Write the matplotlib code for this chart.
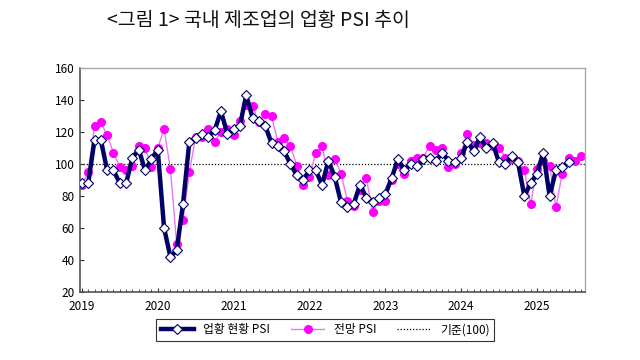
import matplotlib
matplotlib.use("Agg")
import matplotlib.pyplot as plt
import numpy as np

plt.rcParams['font.family'] = ['Noto Sans CJK KR', 'DejaVu Sans']

title = "<그림 1> 국내 제조업의 업황 PSI 추이"
years = ['2019', '2020', '2021', '2022', '2023', '2024', '2025']
series_names = ['업황 현황 PSI', '전망 PSI', '기준(100)']
baseline = 100

# monthly values from Jan 2019
current = [88, 88, 115, 115, 96, 96, 88, 88, 104, 109, 96, 103,
           109, 60, 42, 46, 75, 114, 116, 119, 117, 121, 133, 119,
           122, 124, 143, 129, 127, 124, 113, 111, 108, 100, 93, 90,
           96, 96, 87, 102, 92, 76, 73, 75, 87, 79, 76, 79,
           81, 91, 103, 96, 100, 99, 103, 104, 102, 107, 102, 101,
           104, 114, 108, 117, 110, 113, 101, 100, 105, 101, 80, 88,
           94, 107, 80, 96, 98, 101]
outlook = [87, 95, 124, 126, 118, 107, 98, 96, 99, 111, 110, 98,
           110, 122, 97, 50, 65, 95, 117, 117, 122, 114, 120, 122,
           118, 127, 137, 136, 126, 131, 130, 114, 116, 111, 99, 87,
           92, 107, 111, 93, 103, 94, 77, 74, 84, 91, 70, 77,
           77, 90, 100, 94, 102, 104, 104, 111, 109, 110, 98, 100,
           107, 119, 112, 113, 113, 111, 110, 104, 103, 102, 96, 75,
           97, 102, 99, 73, 94, 104, 102, 105]

fig = plt.figure(figsize=(6.4, 3.6), dpi=100)
ax = fig.add_axes([80/640, 1-292/360, 505/640, 224/360])

xc = np.arange(len(current))
xo = np.arange(len(outlook))

navy = '#000066'
pink = '#FF00FF'

ax.axhline(baseline, color='black', linestyle=(0, (1, 1.5)), linewidth=0.9, zorder=1)
l2, = ax.plot(xo, outlook, color='#EE77EE', linewidth=1.0, marker='o', markersize=5.5,
              markerfacecolor=pink, markeredgecolor=pink, zorder=2)
l1, = ax.plot(xc, current, color=navy, linewidth=3.2, marker='D', markersize=5.5,
              markerfacecolor='white', markeredgecolor=navy, markeredgewidth=0.8, zorder=3)

ax.set_ylim(20, 160)
ax.set_yticks(np.arange(20, 161, 20))
ax.set_xlim(-0.3, 79.6)
ax.set_xticks(np.arange(len(years)) * 12)
ax.set_xticklabels(years)
ax.set_xticks(np.arange(0, 80), minor=True)

ax.tick_params(axis='y', direction='in', length=3, labelsize=8.5, colors='#333333', pad=4)
ax.tick_params(axis='x', which='major', direction='in', length=3, labelsize=8.5, colors='#333333', pad=6)
ax.tick_params(axis='x', which='minor', direction='in', length=2, colors='#333333')
for lab in ax.get_xticklabels() + ax.get_yticklabels():
    lab.set_color('black')

for s in ['left', 'bottom']:
    ax.spines[s].set_color('#555555')
    ax.spines[s].set_linewidth(1.2)
for s in ['top', 'right']:
    ax.spines[s].set_color('#AAAAAA')
    ax.spines[s].set_linewidth(1.0)

l3, = ax.plot([], [], color='black', linestyle=(0, (1, 1.5)), linewidth=0.9)

fig.text(258/640, 1-20/360, title, ha='center', va='center', fontsize=14, fontweight='medium',
         color='#111111')

leg = fig.legend([l1, l2, l3], series_names, loc='center', bbox_to_anchor=(325/640, 1-330/360),
                 ncol=3, fontsize=8.5, frameon=True, fancybox=False, edgecolor='black',
                 handlelength=2.8, columnspacing=1.8, borderpad=0.4)
leg.get_frame().set_linewidth(0.8)

fig.savefig('out.png', dpi=100, facecolor='white')
